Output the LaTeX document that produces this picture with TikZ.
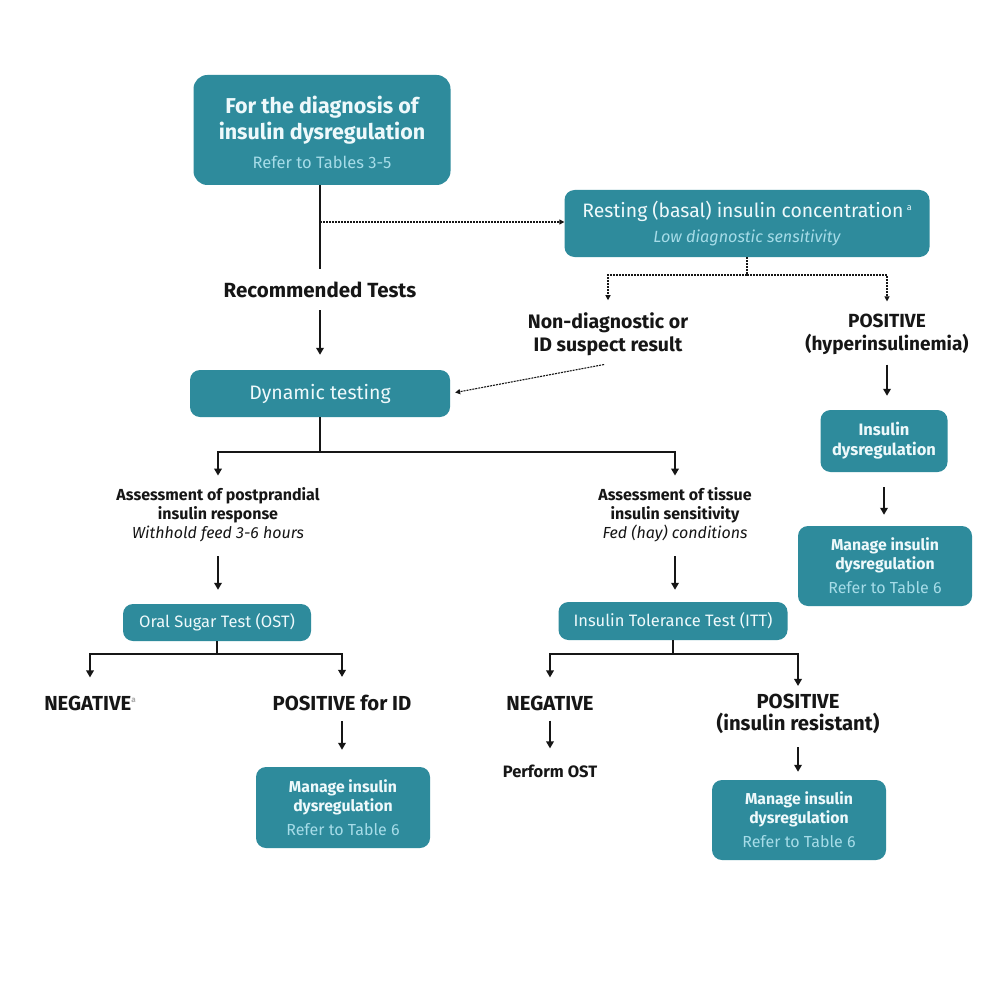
\documentclass[tikz,border=0pt]{standalone}
\usepackage{fontspec}
\setmainfont{Fira Sans}
\usetikzlibrary{arrows.meta,calc}
\definecolor{teal1}{HTML}{2E8B9C}
\definecolor{boxtxt}{HTML}{EEF9FB}
\definecolor{subtxt}{HTML}{A6DCE8}
\definecolor{ink}{HTML}{161616}
\definecolor{supgray}{HTML}{AAAAAA}
\begin{document}
\begin{tikzpicture}[x=1pt,y=-1pt,
 box/.style={fill=teal1, rounded corners=10pt, text=boxtxt, align=center, inner sep=0pt},
 mgbox/.style={box, minimum width=174pt, minimum height=80pt, font=\bfseries\fontsize{15.8}{19}\selectfont},
 lbl/.style={text=ink, align=center, inner sep=0pt, font=\bfseries\fontsize{20.3}{22}\selectfont},
 small/.style={text=ink, align=center, inner sep=0pt, font=\bfseries\fontsize{16}{19}\selectfont},
 sarr/.style={line width=1.9pt, draw=ink, -{Triangle[length=7pt,width=7.5pt]}},
 sline/.style={line width=1.9pt, draw=ink},
 darr/.style={line width=1.1pt, draw=ink, dash pattern=on 2pt off 1pt, -{Triangle[length=5pt,width=5pt]}},
 dline/.style={line width=1.1pt, draw=ink, dash pattern=on 2pt off 1pt},
]
\fill[white] (0,0) rectangle (1000,1000);
\useasboundingbox (0,0) rectangle (1000,1000);

% boxes
\node[box, minimum width=257pt, minimum height=110pt, rounded corners=14pt,
      font=\bfseries\fontsize{21.5}{26}\selectfont] (top) at (322,130)
 {\rule{0pt}{0pt}\\[-4pt]For the diagnosis of\\ insulin dysregulation\\[3pt]
  {\mdseries\fontsize{16.5}{16}\selectfont\color{subtxt}Refer to Tables 3-5}};
\node[box, minimum width=365pt, minimum height=67pt, font=\fontsize{19.4}{25}\selectfont] (rest) at (747,223.5)
 {Resting (basal) insulin concentration\,\raisebox{7pt}{\fontsize{9}{9}\selectfont a}\\
  {\itshape\fontsize{16.2}{16}\selectfont\color{subtxt}Low diagnostic sensitivity}};
\node[box, minimum width=260pt, minimum height=47pt, font=\fontsize{19.5}{22}\selectfont] (dyn) at (320,393.5)
 {Dynamic testing};
\node[box, minimum width=127pt, minimum height=62pt, font=\bfseries\fontsize{16.5}{20}\selectfont] (idb) at (884,441)
 {Insulin\\ dysregulation};
\node[mgbox] (mR) at (885,566)
 {Manage insulin\\ dysregulation\\[5pt]
  {\mdseries\fontsize{16}{16}\selectfont\color{subtxt}Refer to Table 6}};
\node[box, minimum width=188pt, minimum height=37pt, font=\fontsize{16.5}{18}\selectfont] (ost) at (217,622.5)
 {Oral Sugar Test (OST)};
\node[box, minimum width=229pt, minimum height=38pt, font=\fontsize{16.5}{18}\selectfont] (itt) at (673,621)
 {Insulin Tolerance Test (ITT)};
\node[mgbox, minimum height=81pt] (mL) at (343,807.5)
 {Manage insulin\\ dysregulation\\[5pt]
  {\mdseries\fontsize{16}{16}\selectfont\color{subtxt}Refer to Table 6}};
\node[mgbox] (mRR) at (799,820)
 {Manage insulin\\ dysregulation\\[5pt]
  {\mdseries\fontsize{16}{16}\selectfont\color{subtxt}Refer to Table 6}};

% labels
\node[lbl, font=\bfseries\fontsize{20.5}{23}\selectfont] (rec) at (320,290) {Recommended Tests};
\node[lbl, font=\bfseries\fontsize{19.5}{23}\selectfont] (nd) at (608,334) {Non-diagnostic or\\ ID suspect result};
\node[lbl, font=\bfseries\fontsize{19}{23}\selectfont] (pos) at (887,334) {POSITIVE\\ (hyperinsulinemia)};
\node[small] (a1) at (218,515) {Assessment of postprandial\\ insulin response\\ {\mdseries\itshape Withhold feed 3-6 hours}};
\node[small] (a2) at (675,515) {Assessment of tissue\\ insulin sensitivity\\ {\mdseries\itshape Fed (hay) conditions}};
\node[lbl] (neg1) at (90,703) {NEGATIVE\raisebox{8pt}{\fontsize{8}{8}\selectfont\color{supgray}a}};
\node[lbl] (pos1) at (342,703) {POSITIVE for ID};
\node[lbl] (neg2) at (550,703) {NEGATIVE};
\node[lbl] (pos2) at (798,714) {POSITIVE\\ (insulin resistant)};
\node[small, font=\bfseries\fontsize{16.5}{19}\selectfont] (perf) at (550,771) {Perform OST};

% junction coordinates
\coordinate (j1) at (320,222);
\coordinate (rj) at (747,275);
\coordinate (dj) at (320,452);
\coordinate (oj) at (217,654);
\coordinate (ij) at (673,654);

% connectors
\draw[sline, shorten >=13pt] (top.south -| rec.north) -- (rec.north);
\draw[darr] (j1) -- (j1 -| rest.west);
\draw[sarr, shorten <=12pt, shorten >=15pt] (rec.south) -- (dyn.north);
\draw[dline] (rest.south) -- (rj);
\draw[darr, shorten >=12pt] (rj) -| (nd.north);
\draw[darr, shorten >=12pt] (rj) -| (pos.north);
\draw[darr, shorten <=4pt, shorten >=5pt] ($(nd.south)+(0,8)$) -- (dyn.east);
\draw[sarr, shorten <=10pt, shorten >=14pt] (pos.south) -- (pos.south |- idb.north);
\draw[sarr, shorten <=15pt, shorten >=11pt] (idb.south) -- (idb.south |- mR.north);
\draw[sline] (dyn.south) -- (dj);
\draw[sarr, shorten >=12pt] (dj) -| (a1.north);
\draw[sarr, shorten >=12pt] (dj) -| (a2.north);
\draw[sarr, shorten <=14pt, shorten >=14pt] (a1.south) -- (a1.south |- ost.north);
\draw[sarr, shorten <=14pt, shorten >=12pt] (a2.south) -- (a2.south |- itt.north);
\draw[sline] (ost.south) -- (oj);
\draw[sarr, shorten >=18pt] (oj) -| (neg1.north);
\draw[sarr, shorten >=18pt] (oj) -| (pos1.north);
\draw[sline] (itt.south) -- (ij);
\draw[sarr, shorten >=18pt] (ij) -| (neg2.north);
\draw[sarr, shorten >=8pt] (ij) -| (pos2.north);
\draw[sarr, shorten <=10pt, shorten >=17pt] (pos1.south) -- (pos1.south |- mL.north);
\draw[sarr, shorten <=10pt, shorten >=16pt] (neg2.south) -- (perf.north);
\draw[sarr, shorten <=13pt, shorten >=8pt] (pos2.south) -- (pos2.south |- mRR.north);
\end{tikzpicture}
\end{document}
